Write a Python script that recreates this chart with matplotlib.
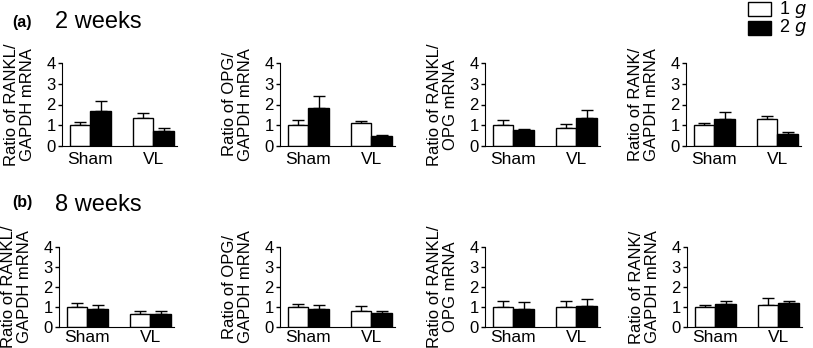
import matplotlib
matplotlib.use("Agg")
import matplotlib.pyplot as plt
from matplotlib.patches import Rectangle
import numpy as np

plt.rcParams['font.family'] = ['Liberation Sans', 'DejaVu Sans']

groups = ["Sham", "VL"]
ylabels = ["Ratio of RANKL/\nGAPDH mRNA", "Ratio of OPG/\nGAPDH mRNA",
           "Ratio of RANKL/\nOPG mRNA", "Ratio of RANK/\nGAPDH mRNA"]

# (a) 2 weeks: mean and upper error for 1 g and 2 g, per panel, [Sham, VL]
wk2_1g = [[1.00, 1.33], [1.00, 1.12], [1.00, 0.86], [0.99, 1.28]]
wk2_1g_err = [[0.17, 0.27], [0.27, 0.08], [0.27, 0.21], [0.14, 0.18]]
wk2_2g = [[1.68, 0.73], [1.83, 0.46], [0.75, 1.35], [1.31, 0.57]]
wk2_2g_err = [[0.50, 0.13], [0.60, 0.08], [0.08, 0.39], [0.31, 0.11]]

# (b) 8 weeks
wk8_1g = [[1.00, 0.63], [1.02, 0.82], [1.00, 0.98], [1.00, 1.10]]
wk8_1g_err = [[0.22, 0.15], [0.13, 0.23], [0.30, 0.33], [0.11, 0.33]]
wk8_2g = [[0.92, 0.67], [0.92, 0.70], [0.92, 1.05], [1.15, 1.18]]
wk8_2g_err = [[0.16, 0.13], [0.17, 0.08], [0.35, 0.33], [0.15, 0.13]]

W, H = 813, 348
fig = plt.figure(figsize=(W / 100, H / 100), dpi=100)

# pixel positions of left spines and axis baselines
lefts_a = [62, 280, 485, 686]
lefts_b = [59, 280, 485, 687]
rows = [
    (lefts_a, 146, 83, 4, wk2_1g, wk2_1g_err, wk2_2g, wk2_2g_err),
    (lefts_b, 327, 80, 2.5, wk8_1g, wk8_1g_err, wk8_2g, wk8_2g_err),
]

x = np.arange(len(groups))
bw = 0.33
xlim = (-0.45, 1.38)
unit_px = 63  # pixels between group centres

for lefts, base, hpx, xpad, m1, e1, m2, e2 in rows:
    for i, lx in enumerate(lefts):
        wpx = (xlim[1] - xlim[0]) * unit_px
        ax = fig.add_axes([lx / W, (H - base) / H, wpx / W, hpx / H])
        ax.bar(x - bw / 2, m1[i], bw, color="white", edgecolor="black", linewidth=1, zorder=2)
        ax.bar(x + bw / 2, m2[i], bw, color="black", edgecolor="black", linewidth=1, zorder=2)
        ax.errorbar(x - bw / 2, m1[i], yerr=[np.zeros(2), e1[i]], fmt="none",
                    ecolor="black", elinewidth=1, capsize=4, capthick=1, zorder=1)
        ax.errorbar(x + bw / 2, m2[i], yerr=[np.zeros(2), e2[i]], fmt="none",
                    ecolor="black", elinewidth=1, capsize=4, capthick=1, zorder=1)
        ax.set_ylim(0, 4)
        ax.set_xlim(*xlim)
        ax.set_yticks([0, 1, 2, 3, 4])
        ax.set_xticks(x)
        ax.set_xticklabels(groups)
        ax.spines[["top", "right"]].set_visible(False)
        ax.tick_params(axis="x", length=0, labelsize=12.5, pad=xpad)
        ax.tick_params(axis="y", length=3, width=1, labelsize=12, pad=1.5)
        ax.set_ylabel(ylabels[i], fontsize=12, labelpad=8, linespacing=1.1)

fig.text(12 / W, 1 - 23 / H, "(a)", fontsize=11.5, fontweight="bold", va="center")
fig.text(55 / W, 1 - 22 / H, "2 weeks", fontsize=17, va="center")
fig.text(12 / W, 1 - 202 / H, "(b)", fontsize=11.5, fontweight="bold", va="center")
fig.text(55 / W, 1 - 205 / H, "8 weeks", fontsize=17, va="center")

# legend
fig.patches.append(Rectangle((748 / W, 1 - 16 / H), 23 / W, 14 / H, transform=fig.transFigure,
                             facecolor="white", edgecolor="black", linewidth=1))
fig.patches.append(Rectangle((748 / W, 1 - 35 / H), 23 / W, 14 / H, transform=fig.transFigure,
                             facecolor="black", edgecolor="black", linewidth=1))
fig.text(779 / W, 1 - 9 / H, "1 $\\it{g}$", fontsize=13, va="center")
fig.text(779 / W, 1 - 28 / H, "2 $\\it{g}$", fontsize=13, va="center")

fig.savefig("out.png", dpi=100)
